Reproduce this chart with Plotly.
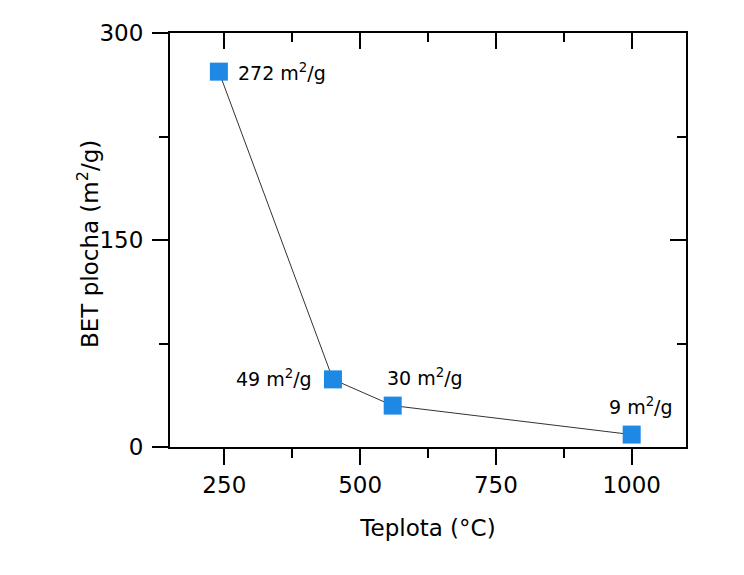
import plotly.graph_objects as go

temps = [240, 450, 560, 1000]
bet = [272, 49, 30, 9]
labels = ["272 m<sup>2</sup>/g", "49 m<sup>2</sup>/g", "30 m<sup>2</sup>/g", "9 m<sup>2</sup>/g"]
label_pos = ["right", "left", "topright", "top"]

x_range = [150, 1100]
y_range = [0, 300]
x_ticks = [250, 500, 750, 1000]
y_ticks = [0, 150, 300]

FONT = "DejaVu Sans, Arial, sans-serif"

fig = go.Figure()
fig.add_trace(go.Scatter(
    x=temps, y=bet, mode="lines+markers",
    line=dict(color="#333333", width=1),
    marker=dict(symbol="square", size=18, color="#1E88E5", line=dict(width=0)),
    showlegend=False,
))

shifts = {"right": dict(xanchor="left", yanchor="middle", xshift=17, yshift=0),
          "left": dict(xanchor="right", yanchor="middle", xshift=-19, yshift=1),
          "topright": dict(xanchor="left", yanchor="bottom", xshift=-8, yshift=15),
          "top": dict(xanchor="center", yanchor="bottom", xshift=9, yshift=15)}
for x, y, t, p in zip(temps, bet, labels, label_pos):
    fig.add_annotation(x=x, y=y, text=t, showarrow=False,
                       font=dict(family=FONT, size=19, color="black"), **shifts[p])

fig.add_annotation(x=0, y=0.5, xref="paper", yref="paper", xshift=-82, yshift=-4,
                   text="BET plocha (m<sup>2</sup>/g)", textangle=-90, showarrow=False,
                   xanchor="center", yanchor="middle",
                   font=dict(family=FONT, size=23, color="black"))

common = dict(showline=True, linewidth=2, linecolor="black", showgrid=False, zeroline=False,
              tickwidth=2, tickcolor="black")

fig.update_layout(
    width=736, height=567,
    margin=dict(l=162, r=58, t=23, b=128),
    paper_bgcolor="white", plot_bgcolor="white",
    font=dict(family=FONT, color="black"),
    xaxis=dict(range=x_range, tickvals=x_ticks, ticks="outside", ticklen=16,
               minor=dict(ticks="outside", ticklen=9, tickwidth=2, dtick=125, tick0=0, tickcolor="black"),
               tickfont=dict(size=23), title=dict(text="Teplota (°C)", font=dict(size=23), standoff=23),
               **common),
    yaxis=dict(range=y_range, tickvals=y_ticks, ticks="outside", ticklen=16, ticklabelstandoff=4,
               minor=dict(ticks="outside", ticklen=9, tickwidth=2, dtick=75, tick0=0, tickcolor="black"),
               tickfont=dict(size=23),
               **common),
    xaxis2=dict(range=x_range, tickvals=x_ticks, ticks="inside", ticklen=16, overlaying="x", side="top",
                showticklabels=False, anchor="y",
                minor=dict(ticks="inside", ticklen=9, tickwidth=2, dtick=125, tick0=0, tickcolor="black"),
                **common),
    yaxis2=dict(range=y_range, tickvals=y_ticks, ticks="inside", ticklen=16, overlaying="y", side="right",
                showticklabels=False, anchor="x",
                minor=dict(ticks="inside", ticklen=9, tickwidth=2, dtick=75, tick0=0, tickcolor="black"),
                **common),
)
fig.add_trace(go.Scatter(x=[None], y=[None], xaxis="x2", yaxis="y2", showlegend=False, hoverinfo="skip"))

fig.write_html("out.html")
